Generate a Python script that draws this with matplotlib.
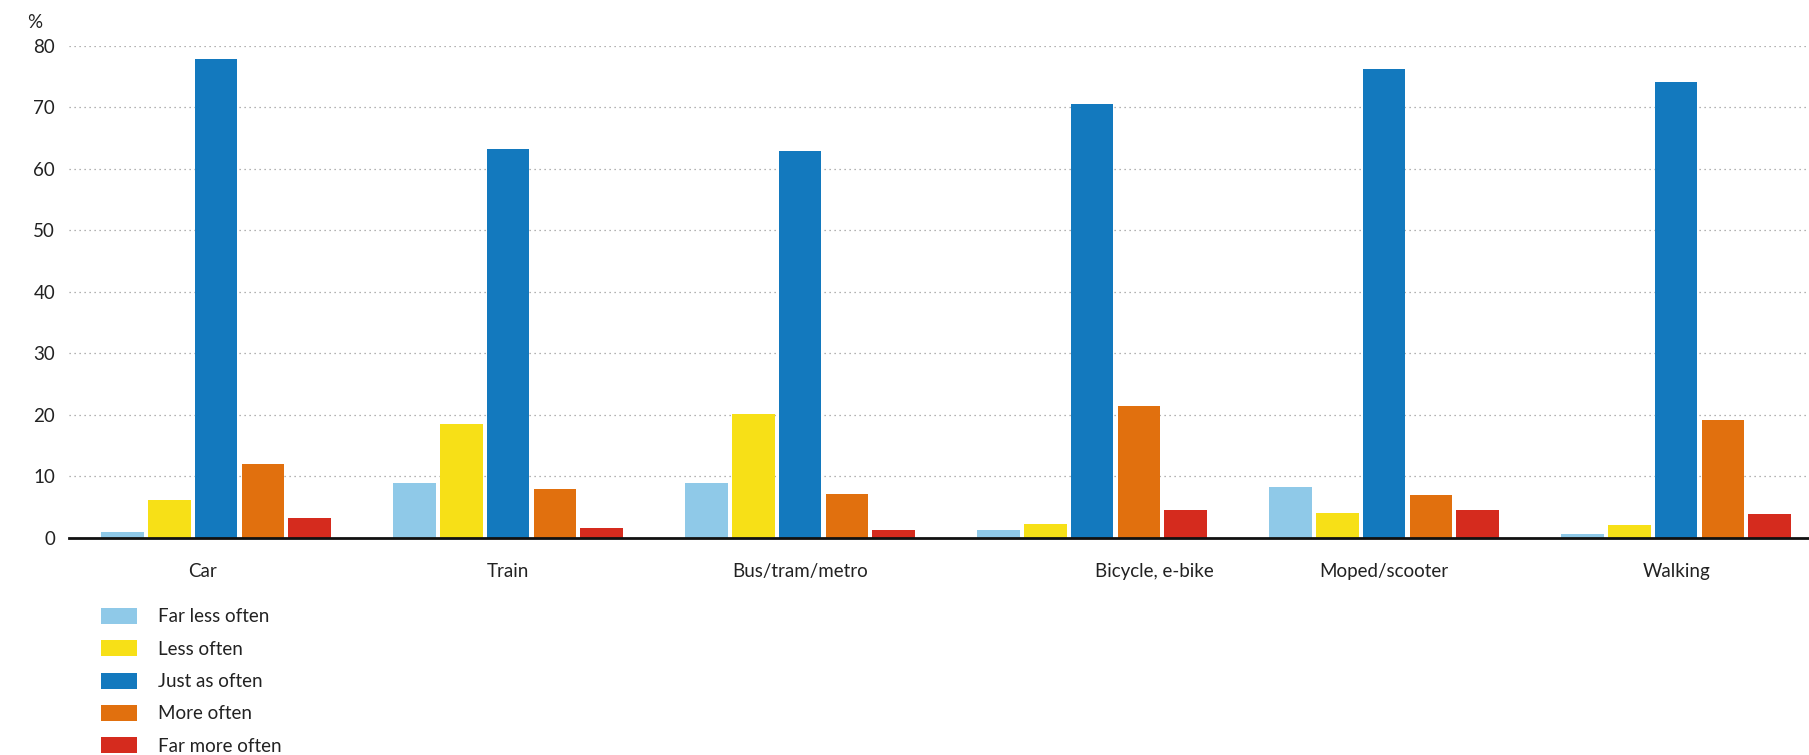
import numpy as np
import matplotlib
matplotlib.use('Agg')
import matplotlib.pyplot as plt
import matplotlib.transforms as mtransforms

plt.rcParams['font.family'] = ['Liberation Sans Narrow', 'Lato', 'DejaVu Sans']

# data (%)
modes = ['Car', 'Train', 'Bus/tram/metro', 'Bicycle, e-bike', 'Moped/scooter', 'Walking']
series = ['Far less often', 'Less often', 'Just as often', 'More often', 'Far more often']
far_less = [0.9, 8.9, 8.9, 1.2, 8.2, 0.6]
less = [6.1, 18.5, 20.1, 2.2, 4.0, 2.1]
just_as = [77.9, 63.3, 62.9, 70.6, 76.2, 74.2]
more = [12.0, 7.9, 7.1, 21.4, 6.9, 19.2]
far_more = [3.2, 1.6, 1.2, 4.5, 4.5, 3.8]
colors = ['#8fc9e8', '#f7e017', '#1379be', '#e1700e', '#d52b1e']

values = [far_less, less, just_as, more, far_more]

fig = plt.figure(figsize=(18.09, 7.55), dpi=100)
ax = fig.add_axes([69 / 1809, 1 - 537.6 / 755, 1 - 69 / 1809, (537.6 - 46) / 755])

x = np.arange(len(modes))
pitch = 0.16
width = 0.146
for i, (name, vals, c) in enumerate(zip(series, values, colors)):
    ax.bar(x + (i - 2) * pitch, vals, width=width, color=c, label=name, zorder=3)

ax.set_ylim(0, 80)
ax.set_xlim(-0.504, len(modes) - 1 + 0.455)
ax.set_yticks(range(0, 81, 10))
ax.yaxis.grid(True, linestyle=(0, (1, 3)), color='#999999', linewidth=0.9, zorder=0)
ax.set_axisbelow(True)
for s in ['top', 'right', 'left']:
    ax.spines[s].set_visible(False)
ax.spines['bottom'].set_linewidth(2)
ax.spines['bottom'].set_color('#111111')
ax.spines['bottom'].set_zorder(4)

ax.set_xticks(x)
ax.set_xticklabels(modes)
ax.tick_params(axis='both', length=0, labelsize=13.5, colors='#222222')
ax.tick_params(axis='x', pad=18)
ax.tick_params(axis='y', pad=10)

# a couple of labels sit off-centre in the original
offsets = {0: -14, 3: 62}
for idx, dx in offsets.items():
    lbl = ax.get_xticklabels()[idx]
    lbl.set_transform(lbl.get_transform() + mtransforms.Affine2D().translate(dx, 0))

fig.text(35 / 1809, 1 - 22 / 755, '%', fontsize=13.5, color='#222222', ha='center', va='center')

fig.legend(loc='upper left', bbox_to_anchor=(101 / 1809, 1 - 608 / 755), frameon=False,
           fontsize=13.5, handlelength=1.9, handleheight=0.92, handletextpad=1.15,
           labelspacing=0.8, borderpad=0, borderaxespad=0, labelcolor='#222222')

fig.savefig('out.png', dpi=100)
